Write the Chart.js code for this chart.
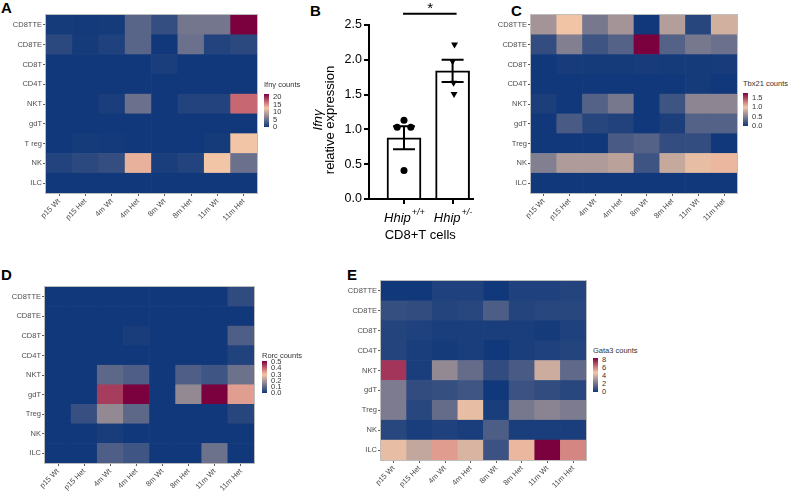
<!DOCTYPE html>
<html>
<head>
<meta charset="utf-8">
<script src="https://cdn.jsdelivr.net/npm/chart.js@4.4.0/dist/chart.umd.min.js"></script>
<style>
  body { margin: 0; background: #fff; width: 789px; height: 491px; position: relative; overflow: hidden;
         font-family: "Liberation Sans", Arial, sans-serif; }
  .panel { position: absolute; }
  .letter { position: absolute; font-weight: bold; font-size: 15px; line-height: 15px; color: #000; }
  .lg { position: absolute; color: #333; font-size: 7.5px; line-height: 8px; white-space: nowrap; }
</style>
</head>
<body>
<div class="letter" style="left:1px;top:0px">A</div>
<div class="letter" style="left:310px;top:3px">B</div>
<div class="letter" style="left:511px;top:3px">C</div>
<div class="letter" style="left:1px;top:267px">D</div>
<div class="letter" style="left:347px;top:267px">E</div>

<div class="panel" style="left:0;top:0"><canvas id="chartA" width="261" height="245"></canvas></div>
<div class="panel" style="left:295px;top:0"><canvas id="chartB" width="195" height="245"></canvas></div>
<div class="panel" style="left:481px;top:0"><canvas id="chartC" width="260" height="245"></canvas></div>
<div class="panel" style="left:0;top:272px"><canvas id="chartD" width="258" height="219"></canvas></div>
<div class="panel" style="left:331px;top:266px"><canvas id="chartE" width="259" height="225"></canvas></div>

<script>
const groups = ["p15 Wt", "p15 Het", "4m Wt", "4m Het", "8m Wt", "8m Het", "11m Wt", "11m Het"];
const cellTypesA = ["CD8TTE", "CD8TE", "CD8T", "CD4T", "NKT", "gdT", "T reg", "NK", "ILC"];
const cellTypes = ["CD8TTE", "CD8TE", "CD8T", "CD4T", "NKT", "gdT", "Treg", "NK", "ILC"];

// rows follow cellTypes order, columns follow groups
const ifngCounts = [
  [0.3, 0.2, 0.3, 4.0, 2.0, 5.5, 5.5, 22],
  [1.5, 0.3, 0.8, 4.0, 0.0, 5.0, 1.0, 1.5],
  [0, 0, 0, 0, 0.5, 0, 0, 0],
  [0, 0, 0, 0, 0, 0, 0, 0],
  [0, 0, 0.5, 5.0, 0, 1.0, 1.0, 17],
  [0, 0, 0, 0, 0, 0, 0, 0],
  [0, 0.3, 0.2, 0, 0, 0, 0.3, 12.5],
  [1.0, 1.5, 2.0, 13.5, 0.5, 1.0, 12.5, 5.0],
  [0, 0, 0, 0, 0, 0, 0, 0]
];
const tbx21Counts = [
  [0.65, 1.0, 0.45, 0.65, 0, 0.72, 0.1, 0.85],
  [0.15, 0.5, 0.2, 0.3, 1.75, 0.3, 0.45, 0.4],
  [0, 0.03, 0.02, 0.02, 0.03, 0.02, 0.02, 0.03],
  [0, 0, 0, 0, 0, 0, 0.02, 0],
  [0.05, 0, 0.3, 0.45, 0, 0.2, 0.55, 0.55],
  [0, 0.25, 0.1, 0.07, 0, 0.05, 0.3, 0.3],
  [0, 0, 0, 0.25, 0.3, 0.15, 0.15, 0],
  [0.5, 0.7, 0.7, 0.75, 0.2, 0.8, 0.95, 1.05],
  [0, 0, 0, 0, 0, 0, 0, 0]
];
const rorcCounts = [
  [0, 0, 0, 0, 0, 0, 0, 0.04],
  [0, 0, 0, 0, 0, 0, 0, 0],
  [0, 0, 0, 0.01, 0, 0, 0, 0.08],
  [0, 0, 0, 0, 0, 0, 0, 0.02],
  [0, 0, 0.1, 0.08, 0, 0.08, 0.06, 0.12],
  [0, 0, 0.45, 0.52, 0, 0.17, 0.52, 0.34],
  [0, 0.05, 0.17, 0.1, 0, 0, 0, 0.03],
  [0, 0, 0.01, 0, 0, 0, 0, 0],
  [0, 0, 0.08, 0.06, 0, 0, 0.12, 0]
];
const gata3Counts = [
  [0, 0, 0.3, 0.3, 0, 0.3, 0.3, 0.4],
  [0.8, 0.7, 0.4, 0.5, 1.3, 0.4, 0.5, 0.5],
  [0.4, 0.3, 0.2, 0.2, 0.2, 0.2, 0.1, 0.3],
  [0.4, 0.2, 0.1, 0.2, 0, 0.2, 0.3, 0.4],
  [7.5, 0.2, 2.8, 1.8, 0.7, 1.2, 4.0, 1.7],
  [2.3, 0.7, 0.8, 1.0, 0, 0.9, 0.7, 0.5],
  [2.3, 0.5, 1.8, 4.6, 0.2, 2.2, 2.6, 2.3],
  [0.5, 0.2, 0.3, 0.2, 1.3, 0.2, 0.2, 0.2],
  [4.6, 3.8, 5.6, 4.3, 0.9, 5.1, 8.5, 6.0]
];

const ifngTicks = [0, 5, 10, 15, 20];
const tbx21Ticks = [0, 0.5, 1, 1.5];
const rorcTicks = [0, 0.1, 0.2, 0.3, 0.4, 0.5];
const gata3Ticks = [0, 2, 4, 6, 8];

// panel B
const genotypes = ["Hhip", "Hhip"];
const genotypeSup = ["+/+", "+/-"];
const bMeans = [0.88, 1.84];
const bSem = [0.165, 0.16];
const wtPoints = [1.13, 1.03, 1.03, 0.41];
const wtJitter = [0, -0.14, 0.14, 0];
const hetPoints = [2.22, 1.98, 1.67, 1.51];
const hetJitter = [0.04, 0, 0.02, 0.03];
const bYTicks = [0, 0.5, 1, 1.5, 2, 2.5];

const stops = [[0, [17, 56, 122]], [0.57, [242, 197, 166]], [0.78, [196, 100, 112]], [1, [122, 0, 62]]];
function colorAt(t) {
  t = Math.max(0, Math.min(1, t));
  for (let i = 1; i < stops.length; i++) {
    if (t <= stops[i][0]) {
      const [a, ca] = stops[i - 1], [b, cb] = stops[i];
      const f = (t - a) / (b - a);
      return "rgb(" + ca.map((c, k) => Math.round(c + (cb[k] - c) * f)).join(",") + ")";
    }
  }
  return "rgb(122,0,62)";
}

const borderPlugin = {
  id: "panelBorder",
  afterDraw(chart) {
    const { ctx, chartArea: a } = chart;
    ctx.save();
    ctx.strokeStyle = "#bdbdbd";
    ctx.lineWidth = 1;
    ctx.strokeRect(a.left - 0.5, a.top - 0.5, a.right - a.left + 1, a.bottom - a.top + 1);
    ctx.restore();
  }
};

// area = plot rectangle inside the canvas
function heatmap(id, rows, values, maxVal, area, cw, ch) {
  const datasets = rows.map((r, i) => ({
    label: r,
    data: groups.map(() => 1),
    backgroundColor: values[i].map(v => colorAt(v / maxVal)),
    borderWidth: 0,
    barPercentage: 1,
    categoryPercentage: 1
  })).reverse();
  const tickFont = { family: "Liberation Sans", size: 7.5 };
  return new Chart(document.getElementById(id), {
    type: "bar",
    data: { labels: groups, datasets },
    options: {
      responsive: false,
      animation: false,
      layout: { padding: { top: area.top, right: cw - area.right, left: 0, bottom: 0 } },
      plugins: { legend: { display: false }, tooltip: { enabled: false } },
      scales: {
        x: {
          stacked: true,
          grid: { offset: false, drawOnChartArea: false, drawTicks: true, tickLength: 3, color: "#333", lineWidth: 0.8 },
          border: { display: false },
          ticks: { minRotation: 45, maxRotation: 45, autoSkip: false, padding: 1, color: "#4d4d4d", font: tickFont },
          afterFit: s => { s.height = ch - area.bottom; }
        },
        y: {
          stacked: true,
          min: 0,
          max: rows.length,
          afterBuildTicks: s => { s.ticks = rows.map((_, i) => ({ value: i + 0.5 })); },
          grid: { drawOnChartArea: false, drawTicks: true, tickLength: 3, color: "#333", lineWidth: 0.8 },
          border: { display: false },
          ticks: {
            autoSkip: false, padding: 1, color: "#4d4d4d", font: tickFont,
            callback: v => rows[rows.length - 1 - Math.floor(v)]
          },
          afterFit: s => { s.width = area.left; }
        }
      }
    },
    plugins: [borderPlugin]
  });
}

heatmap("chartA", cellTypesA, ifngCounts, 22, { left: 46, top: 15, right: 257, bottom: 193 }, 261, 245);
heatmap("chartC", cellTypes, tbx21Counts, 1.75, { left: 50, top: 15, right: 256, bottom: 193 }, 260, 245);
heatmap("chartD", cellTypes, rorcCounts, 0.52, { left: 45, top: 15, right: 254, bottom: 191 }, 258, 219);
heatmap("chartE", cellTypes, gata3Counts, 8.5, { left: 50, top: 15, right: 255, bottom: 194 }, 259, 225);

// colour bar legends
function colorLegend(title, ticks, maxVal, pos, fmt) {
  const t = document.createElement("div");
  t.className = "lg";
  t.style.left = pos.left + "px";
  t.style.top = pos.top + "px";
  t.textContent = title;
  document.body.appendChild(t);
  const bar = document.createElement("div");
  bar.style.cssText = "position:absolute;left:" + pos.left + "px;top:" + pos.barTop + "px;width:5px;height:" + pos.barH + "px;" +
    "background:linear-gradient(to top," + stops.map(s => "rgb(" + s[1].join(",") + ") " + (s[0] * 100) + "%").join(",") + ")";
  document.body.appendChild(bar);
  ticks.forEach(v => {
    const l = document.createElement("div");
    l.className = "lg";
    l.style.left = (pos.left + 9) + "px";
    l.style.top = (pos.barTop + pos.barH * (1 - v / maxVal) - 4) + "px";
    l.textContent = fmt(v);
    document.body.appendChild(l);
  });
}
colorLegend("Ifn\u03b3 counts", ifngTicks, 22, { left: 264, top: 81, barTop: 94, barH: 33 }, v => String(v));
colorLegend("Tbx21 counts", tbx21Ticks, 1.75, { left: 743, top: 80, barTop: 93, barH: 33 }, v => v.toFixed(1));
colorLegend("Rorc counts", rorcTicks, 0.52, { left: 262, top: 352, barTop: 361, barH: 32 }, v => v.toFixed(1));
colorLegend("Gata3 counts", gata3Ticks, 8.5, { left: 593, top: 347, barTop: 358, barH: 34 }, v => String(v));

// panel B
const bExtras = {
  id: "bExtras",
  afterDatasetsDraw(chart) {
    const { ctx, scales: { x, y } } = chart;
    ctx.save();
    ctx.strokeStyle = "#000";
    ctx.lineWidth = 2;
    bMeans.forEach((m, i) => {
      const cx = x.getPixelForValue(i);
      const top = y.getPixelForValue(m + bSem[i]);
      const bot = y.getPixelForValue(m - bSem[i]);
      ctx.beginPath();
      ctx.moveTo(cx, top); ctx.lineTo(cx, bot);
      ctx.moveTo(cx - 11, top); ctx.lineTo(cx + 11, top);
      ctx.moveTo(cx - 11, bot); ctx.lineTo(cx + 11, bot);
      ctx.stroke();
    });
    ctx.restore();
  },
  afterDraw(chart) {
    const { ctx, chartArea: a, scales: { x, y } } = chart;
    ctx.save();
    ctx.fillStyle = "#000";
    // x tick labels with superscripts
    genotypes.forEach((g, i) => {
      const cx = x.getPixelForValue(i);
      ctx.font = "italic 13px 'Liberation Sans'";
      const w1 = ctx.measureText(g).width;
      ctx.font = "italic 9px 'Liberation Sans'";
      const w2 = ctx.measureText(genotypeSup[i]).width;
      const sx = cx - (w1 + w2) / 2;
      ctx.textBaseline = "alphabetic";
      ctx.textAlign = "left";
      ctx.font = "italic 13px 'Liberation Sans'";
      ctx.fillText(g, sx, a.bottom + 23);
      ctx.font = "italic 9px 'Liberation Sans'";
      ctx.fillText(genotypeSup[i], sx + w1 + 1, a.bottom + 16);
    });
    ctx.font = "13px 'Liberation Sans'";
    ctx.textAlign = "center";
    ctx.fillText("CD8+T cells", (x.getPixelForValue(0) + x.getPixelForValue(1)) / 2 - 8, a.bottom + 40);
    // y title
    ctx.save();
    ctx.translate(a.left - 35, (a.top + a.bottom) / 2 + 8);
    ctx.rotate(-Math.PI / 2);
    ctx.textAlign = "center";
    ctx.textBaseline = "alphabetic";
    ctx.font = "13px 'Liberation Sans'";
    ctx.fillText("relative expression", 0, 0);
    ctx.font = "italic 13px 'Liberation Sans'";
    ctx.fillText("Ifn\u03b3", 0, -12);
    ctx.restore();
    // significance bar
    const x0 = x.getPixelForValue(0), x1 = x.getPixelForValue(1);
    const ly = y.getPixelForValue(2.66);
    ctx.lineWidth = 2;
    ctx.beginPath();
    ctx.moveTo(x0 - 1, ly); ctx.lineTo(x1 + 4, ly);
    ctx.stroke();
    ctx.font = "15px 'Liberation Sans'";
    ctx.textAlign = "center";
    ctx.fillText("*", (x0 + x1) / 2 + 2, ly - 1);
    ctx.restore();
  }
};

new Chart(document.getElementById("chartB"), {
  type: "bar",
  data: {
    datasets: [
      {
        type: "scatter", order: 1,
        data: wtPoints.map((v, i) => ({ x: 0 + wtJitter[i], y: v })),
        pointStyle: "circle", radius: 3.5, backgroundColor: "#000", borderColor: "#000", borderWidth: 0
      },
      {
        type: "scatter", order: 1,
        data: hetPoints.map((v, i) => ({ x: 1 + hetJitter[i], y: v })),
        pointStyle: "triangle", rotation: 180, radius: 4, backgroundColor: "#000", borderColor: "#000", borderWidth: 0
      },
      {
        type: "bar", order: 2,
        data: bMeans.map((v, i) => ({ x: i, y: v })),
        backgroundColor: "#fff", borderColor: "#000", borderWidth: 2, barThickness: 34
      }
    ]
  },
  options: {
    responsive: false,
    animation: false,
    layout: { padding: { top: 25, right: 17, left: 0, bottom: 0 } },
    plugins: { legend: { display: false }, tooltip: { enabled: false } },
    scales: {
      x: {
        type: "linear",
        offset: false,
        min: -0.72,
        max: 1.42,
        afterBuildTicks: s => { s.ticks = [{ value: 0 }, { value: 1 }]; },
        grid: { offset: false, drawOnChartArea: false, drawTicks: true, tickLength: 5, color: "#000", lineWidth: 2 },
        border: { display: true, color: "#000", width: 2 },
        ticks: { callback: () => "" },
        afterFit: s => { s.height = 245 - 199; }
      },
      y: {
        min: 0,
        max: 2.5,
        afterBuildTicks: s => { s.ticks = bYTicks.map(v => ({ value: v })); },
        grid: { drawOnChartArea: false, drawTicks: true, tickLength: 5, color: "#000", lineWidth: 2 },
        border: { display: true, color: "#000", width: 2 },
        ticks: { color: "#000", padding: 2, font: { family: "Liberation Sans", size: 12.5 }, callback: v => v.toFixed(1) },
        afterFit: s => { s.width = 369 - 295; }
      }
    }
  },
  plugins: [bExtras]
});
</script>
</body>
</html>
